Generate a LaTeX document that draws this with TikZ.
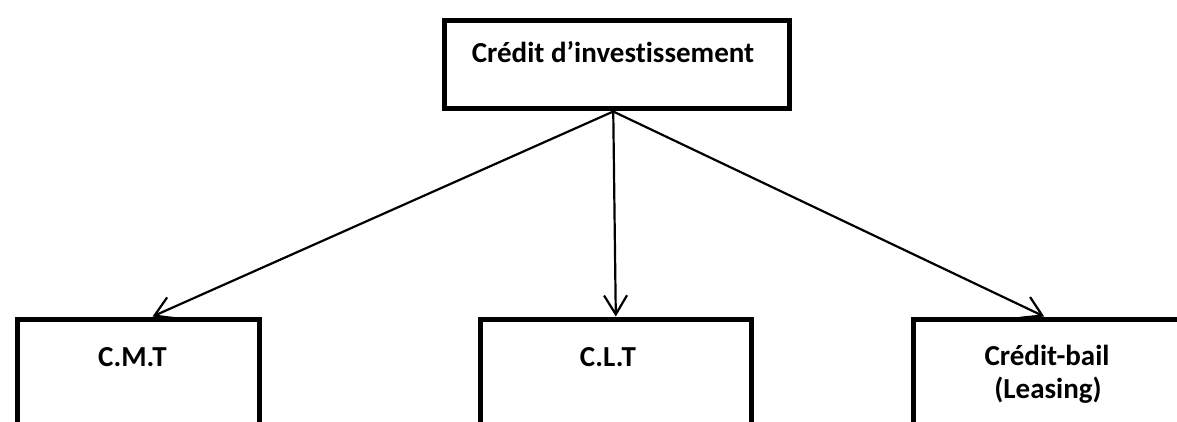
\documentclass[tikz,border=0pt]{standalone}
\usepackage{fontspec}
\setmainfont{Carlito}[Ligatures={NoCommon}]
\usetikzlibrary{arrows.meta}
\begin{document}
\begin{tikzpicture}[x=1pt,y=1pt,
  box/.style={draw, line width=5pt, fill=none, inner sep=0pt},
  lbl/.style={font=\bfseries\fontsize{29}{34}\selectfont, align=center, inner sep=0pt},
  arr/.style={line width=2.2pt, -{Straight Barb[length=19pt,width=23pt,line width=2.2pt]}}]
\useasboundingbox (0,0) rectangle (1177,-422);
\clip (0,0) rectangle (1177,-422);
% top box
\node[box, minimum width=344.5pt, minimum height=88.5pt] (top) at (616.75,-64.75) {};
\node[lbl, anchor=base] (toptxt) at (613,-63) {Crédit d’investissement};
% bottom boxes, running off the lower edge
\node[box, minimum width=242.5pt, minimum height=200pt, anchor=north west] (cmt) at (14.5,-316.5) {};
\node[box, minimum width=271pt, minimum height=200pt, anchor=north west] (clt) at (477.5,-316.5) {};
\node[box, minimum width=272pt, minimum height=200pt, anchor=north west] (cb) at (911,-316.5) {};
\node[lbl, anchor=base] (cmttxt) at (132.5,-366) {C.M.T};
\node[lbl, anchor=base] (clttxt) at (608,-366) {C.L.T};
\node[lbl, anchor=base] (cbtxt1) at (1047,-365) {Crédit-bail};
\node[lbl, anchor=base] (cbtxt2) at (1048,-398) {(Leasing)};
% connectors
\draw[arr] ([xshift=-3.5pt]top.south) -- ([xshift=14.25pt]cmt.north);
\draw[arr] ([xshift=-3.5pt]top.south) -- ([xshift=0.3pt]clt.north);
\draw[arr] ([xshift=-3.5pt]top.south) -- ([xshift=-5.3pt]cb.north);
\end{tikzpicture}
\end{document}
